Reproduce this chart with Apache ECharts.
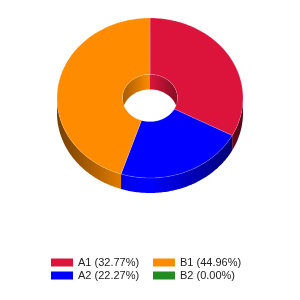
<!DOCTYPE html>
<html>
<head>
<meta charset="utf-8">
<style>html,body{margin:0;padding:0;background:#fff}#c{width:300px;height:300px}</style>
<script src="https://cdn.jsdelivr.net/npm/echarts@6/dist/echarts.min.js"></script>
</head>
<body>
<div id="c"></div>
<script>
const categories = ['A1', 'A2', 'B1', 'B2'];
const values = [32.77, 22.27, 44.96, 0.00];
const colors = ['#DC143C', '#0000FF', '#FF8C00', '#228B22'];
const legendCol1 = ['A1', 'A2'];
const legendCol2 = ['B1', 'B2'];

const total = values.reduce((a, b) => a + b, 0);

function shade(hex, f) {
  const n = parseInt(hex.slice(1), 16);
  const r = Math.round(((n >> 16) & 255) * f);
  const g = Math.round(((n >> 8) & 255) * f);
  const b = Math.round((n & 255) * f);
  return 'rgb(' + r + ',' + g + ',' + b + ')';
}

const G = { cx: 150, cy: 98, rx: 93, ry: 80, irx: 27.5, iry: 23.6, depth: 15 };

function pt(r1, r2, deg, dy) {
  const a = deg * Math.PI / 180;
  return [G.cx + r1 * Math.sin(a), G.cy - r2 * Math.cos(a) + (dy || 0)];
}
function arc(r1, r2, a1, a2, dy) {
  const pts = [];
  const n = Math.max(2, Math.ceil(Math.abs(a2 - a1)));
  for (let i = 0; i <= n; i++) pts.push(pt(r1, r2, a1 + (a2 - a1) * i / n, dy));
  return pts;
}
function overlap(a1, a2, lo, hi) {
  const s = Math.max(a1, lo), e = Math.min(a2, hi);
  return e > s ? [s, e] : null;
}

function renderItem(params, api) {
  const idx = params.dataIndex;
  const v = values[idx];
  if (!(v > 0)) return { type: 'group', children: [] };
  let start = 0;
  for (let i = 0; i < idx; i++) start += values[i];
  const a1 = start / total * 360;
  const a2 = (start + v) / total * 360;
  const col = colors[idx];
  const children = [];

  const outerFill = {
    type: 'linear', global: true, x: G.cx - G.rx, y: 0, x2: G.cx + G.rx, y2: 0,
    colorStops: [
      { offset: 0, color: shade(col, 0.45) },
      { offset: 0.4, color: shade(col, 0.95) },
      { offset: 0.5, color: shade(col, 1) },
      { offset: 1, color: shade(col, 0.38) }
    ]
  };
  const innerFill = {
    type: 'linear', global: true, x: G.cx - G.irx, y: 0, x2: G.cx + G.irx, y2: 0,
    colorStops: [
      { offset: 0, color: shade(col, 0.65) },
      { offset: 0.5, color: shade(col, 1) },
      { offset: 1, color: shade(col, 0.6) }
    ]
  };

  const fr = overlap(a1, a2, 90, 270);
  if (fr) {
    const top = arc(G.rx, G.ry, fr[0], fr[1], 0);
    const bot = arc(G.rx, G.ry, fr[1], fr[0], G.depth);
    children.push({ type: 'polygon', z2: 1, shape: { points: top.concat(bot) }, style: { fill: outerFill } });
  }
  [[0, 90], [270, 360]].forEach(function (rg) {
    const o = overlap(a1, a2, rg[0], rg[1]);
    if (o) {
      const top = arc(G.irx, G.iry, o[0], o[1], 0);
      const bot = arc(G.irx, G.iry, o[1], o[0], G.depth);
      children.push({ type: 'polygon', z2: 1, shape: { points: top.concat(bot) }, style: { fill: innerFill } });
    }
  });
  const outer = arc(G.rx, G.ry, a1, a2, 0);
  const inner = arc(G.irx, G.iry, a2, a1, 0);
  children.push({
    type: 'polygon', z2: 2, shape: { points: outer.concat(inner) },
    style: { fill: col, stroke: 'rgba(255,255,255,0.25)', lineWidth: 0.8 }
  });
  return { type: 'group', children: children };
}

const chart = echarts.init(document.getElementById('c'), null, { renderer: 'canvas' });
const legendBase = {
  orient: 'vertical', top: 257, itemWidth: 22, itemHeight: 8, itemGap: 2, padding: 0,
  icon: 'rect', selectedMode: false,
  textStyle: { fontFamily: 'Liberation Sans', fontSize: 11, color: '#222' },
  formatter: function (name) {
    const i = categories.indexOf(name);
    return name + ' (' + values[i].toFixed(2) + '%)';
  }
};
chart.setOption({
  animation: false,
  backgroundColor: '#fff',
  color: colors,
  legend: [
    Object.assign({}, legendBase, { left: 51, data: legendCol1 }),
    Object.assign({}, legendBase, { left: 153, data: legendCol2 })
  ],
  series: [
    {
      type: 'pie', name: 'legendSource', center: [-500, -500], radius: 5, silent: true,
      label: { show: false },
      data: categories.map((c, i) => ({ name: c, value: values[i], itemStyle: { color: colors[i] } }))
    },
    {
      type: 'custom', name: 'pie3d', coordinateSystem: 'none', silent: true,
      renderItem: renderItem,
      data: values.map((v, i) => [i, v])
    }
  ]
});
</script>
</body>
</html>
